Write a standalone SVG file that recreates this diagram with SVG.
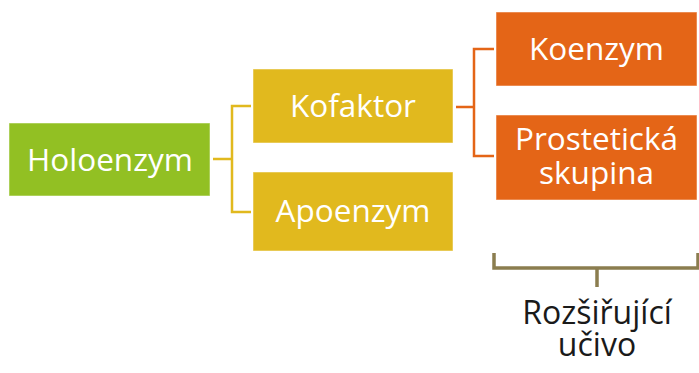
<svg xmlns="http://www.w3.org/2000/svg" width="699" height="373" viewBox="0 0 699 373">
<style>
.box{stroke:#ffffff;stroke-opacity:0.5;stroke-width:1}
.t{font-family:"Open Sans","Noto Sans","DejaVu Sans",sans-serif;font-size:31.5px;fill:#ffffff;text-anchor:middle}
.k{fill:#1a1a1a;font-size:32px}
.c{fill:none;stroke-width:2.5}
</style>
<rect width="699" height="373" fill="#ffffff"/>
<g id="connectors">
<path class="c" stroke="#E1B91E" d="M213,159 H232 M251,106 H232 V212 H251"/>
<path class="c" stroke="#E46517" d="M456,107 H474 M494,49 H474 V156 H494"/>
<path fill="none" stroke="#8B7D4F" stroke-width="3.5" d="M494,253 V268 H698 V253 M597,268 V287"/>
</g>
<g id="holoenzym">
<rect class="box" x="9" y="123" width="201" height="73" fill="#92C023"/>
<text class="t" x="110" y="170.5">Holoenzym</text>
</g>
<g id="kofaktor">
<rect class="box" x="253" y="69" width="200" height="74" fill="#E1B91E"/>
<text class="t" x="353" y="117">Kofaktor</text>
</g>
<g id="apoenzym">
<rect class="box" x="253" y="172" width="200" height="79" fill="#E1B91E"/>
<text class="t" x="353" y="222">Apoenzym</text>
</g>
<g id="koenzym">
<rect class="box" x="496" y="12" width="201" height="74" fill="#E46517"/>
<text class="t" x="596.5" y="60">Koenzym</text>
</g>
<g id="prostetick">
<rect class="box" x="496" y="115" width="201" height="85" fill="#E46517"/>
<text class="t" x="596.5" y="150">Prostetická</text>
<text class="t" x="596.5" y="184">skupina</text>
</g>
<g id="rozsirujici">
<text class="t k" x="597" y="324">Rozšiřující</text>
<text class="t k" x="597" y="356">učivo</text>
</g>
</svg>
